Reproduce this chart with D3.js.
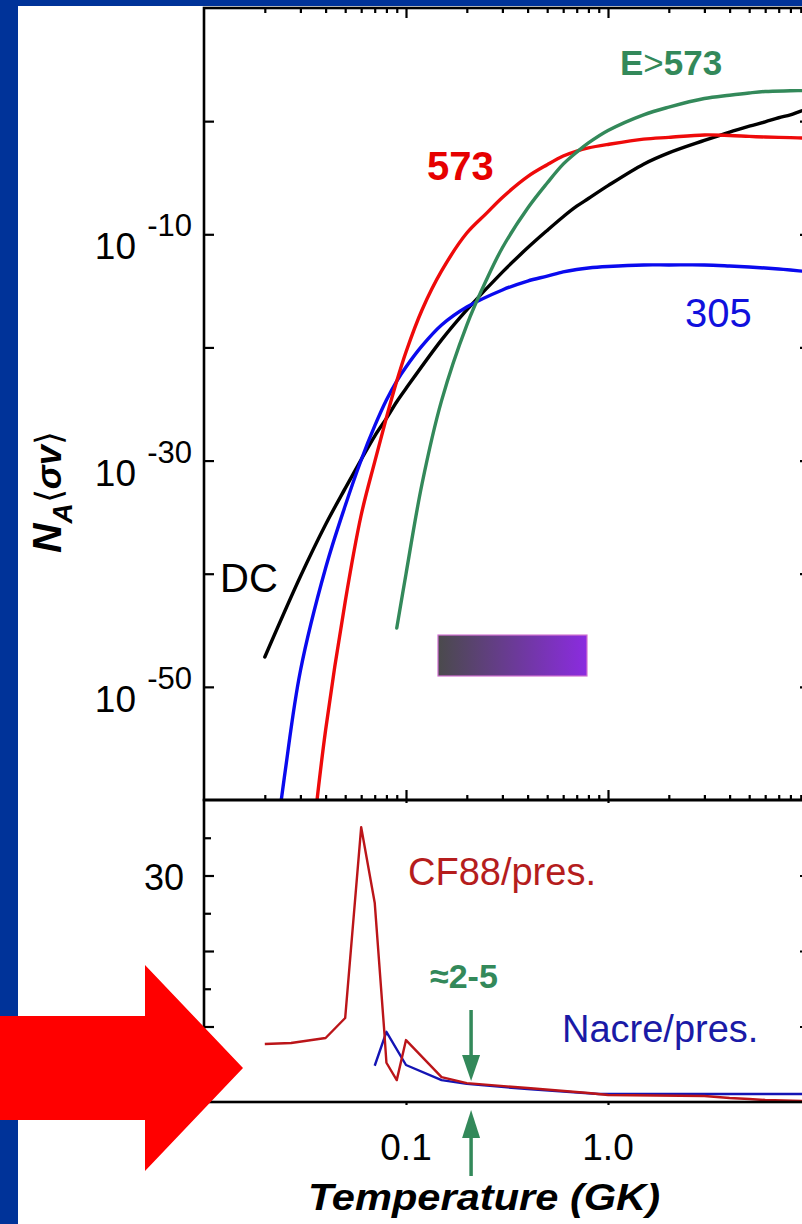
<!DOCTYPE html>
<html>
<head>
<meta charset="utf-8">
<script src="https://cdn.jsdelivr.net/npm/d3@7"></script>
<style>
  html, body { margin: 0; padding: 0; background: #ffffff; }
  svg { display: block; }
</style>
</head>
<body>
<svg id="chart" width="802" height="1224"></svg>
<script>
// ---------- data ----------
// Upper panel: reaction rate N_A<sigma v>, stored as log10 values, vs temperature (GK)
const tempDC   = [0.02, 0.03, 0.04, 0.05, 0.06, 0.07, 0.08, 0.09, 0.1, 0.15, 0.2, 0.3, 0.4, 0.5, 0.6, 0.7, 0.8, 1, 1.5, 2, 3, 4, 5, 6, 7, 8, 9, 10];
const logRateDC = [-47.36, -40.25, -35.65, -32.46, -29.91, -27.83, -26.27, -24.8, -23.63, -19.33, -16.68, -13.34, -11.2, -9.66, -8.45, -7.52, -6.84, -5.7, -3.8, -2.8, -1.7, -0.96, -0.45, -0.06, 0.3, 0.56, 0.89, 1.12];

const temp305    = [0.02, 0.025, 0.03, 0.04, 0.05, 0.06, 0.07, 0.08, 0.09, 0.1, 0.12, 0.15, 0.2, 0.3, 0.4, 0.5, 0.6, 0.7, 0.8, 1, 1.5, 2, 3, 4, 5, 6, 7, 8, 10];
const logRate305 = [-71.0, -57.97, -48.6, -39.5, -34.0, -29.95, -26.94, -24.65, -22.97, -21.73, -19.87, -18.02, -16.43, -14.92, -14.13, -13.7, -13.33, -13.11, -12.98, -12.85, -12.71, -12.71, -12.71, -12.8, -12.89, -12.98, -13.07, -13.16, -13.33];

const temp573    = [0.035, 0.04, 0.05, 0.06, 0.07, 0.08, 0.09, 0.1, 0.12, 0.15, 0.2, 0.25, 0.3, 0.4, 0.5, 0.6, 0.7, 0.8, 1, 1.5, 2, 3, 4, 5, 6, 8, 10];
const logRate573 = [-62.47, -53.81, -42.47, -34.81, -30.11, -26.2, -22.97, -20.4, -16.69, -13.24, -9.89, -8.15, -6.74, -4.9, -3.85, -3.08, -2.64, -2.37, -2.06, -1.59, -1.43, -1.22, -1.27, -1.35, -1.4, -1.46, -1.51];

const tempHigh    = [0.09, 0.1, 0.12, 0.15, 0.2, 0.25, 0.3, 0.4, 0.5, 0.6, 0.7, 0.8, 1, 1.5, 2, 3, 4, 5, 6, 8, 10];
const logRateHigh = [-44.8, -40.02, -32.07, -24.7, -18.02, -14.04, -11.19, -7.7, -5.47, -3.8, -2.74, -1.93, -0.83, 0.56, 1.24, 2.0, 2.29, 2.49, 2.62, 2.68, 2.71];

// Shaded temperature band in the upper panel
const bandTemp = [0.144, 0.787];
const bandLogRate = [-45.42, -49.04];

// Lower panel: rate ratios vs temperature (GK)
const tempCF88  = [0.02, 0.027, 0.04, 0.05, 0.06, 0.07, 0.078, 0.08, 0.09, 0.1, 0.15, 0.2, 0.4, 0.8, 1, 3, 4, 5, 6, 10];
const ratioCF88 = [7.68, 7.81, 8.48, 11.13, 36.4, 26.4, 9.5, 5.2, 2.9, 8.2, 3.3, 2.5, 1.85, 1.2, 0.93, 0.8, 0.53, 0.4, 0.26, 0.13];
const tempNacre  = [0.07, 0.08, 0.1, 0.15, 0.2, 0.4, 0.9, 10];
const ratioNacre = [4.8, 9.3, 4.9, 2.9, 2.4, 1.7, 1.06, 1.06];

// Marked temperature for the "≈2-5" note
const markTemp = 0.21;

// Tick values and labels
const xMajorTicks = [0.1, 1, 10];
const xTickLabels = [["0.1", 0.1], ["1.0", 1]];
const yUpperTicks = [1e0, 1e-10, 1e-20, 1e-30, 1e-40, 1e-50];
const yUpperLabels = [[1e-10, "-10"], [1e-30, "-30"], [1e-50, "-50"]];
const yLowerMajor = [10, 20, 30];
const yLowerMinor = [5, 15, 25, 35];
const yLowerLabels = [30];

// ---------- layout ----------
const W = 802, H = 1224;
const plotLeft = 204, plotRight = 810;
const upperTop = 8, split = 800, lowerBottom = 1102;
const FONT = "'Liberation Sans', Arial, Helvetica, sans-serif";

const svg = d3.select("#chart");

const x = d3.scaleLog().domain([0.01, 10]).range([plotLeft, plotRight]);
const yUp = d3.scaleLog().domain([1e-60, 1e10]).range([split, upperTop]);
const yLow = d3.scaleLinear().domain([0, 40]).range([lowerBottom, split]);

const xMinorTicks = [];
[0.01, 0.1, 1].forEach(dec => { for (let k = 2; k <= 9; k++) xMinorTicks.push(+(dec * k).toPrecision(3)); });

// page background with blue border
svg.append("rect").attr("width", W).attr("height", H).attr("fill", "#003399");
svg.append("rect").attr("x", 18).attr("y", 6).attr("width", W - 18).attr("height", H - 6).attr("fill", "#ffffff");

const defs = svg.append("defs");
defs.append("clipPath").attr("id", "clipUpper").append("rect")
  .attr("x", plotLeft).attr("y", upperTop).attr("width", plotRight - plotLeft).attr("height", split - upperTop);
defs.append("clipPath").attr("id", "clipLower").append("rect")
  .attr("x", plotLeft).attr("y", split).attr("width", plotRight - plotLeft).attr("height", lowerBottom - split);
const grad = defs.append("linearGradient").attr("id", "bandFill").attr("x1", "0%").attr("x2", "100%").attr("y1", "0%").attr("y2", "0%");
grad.append("stop").attr("offset", "0%").attr("stop-color", "#4a4a4c");
grad.append("stop").attr("offset", "100%").attr("stop-color", "#8b2be0");

// ---------- upper panel ----------
const zip = (t, v) => t.map((d, i) => [d, v[i]]);
const upperLine = d3.line().x(d => x(d[0])).y(d => yUp(Math.pow(10, d[1]))).curve(d3.curveCatmullRom.alpha(0.5));

const gUp = svg.append("g").attr("clip-path", "url(#clipUpper)");
const upperSeries = [
  { t: tempDC, v: logRateDC, color: "#000000" },
  { t: temp305, v: logRate305, color: "#0a0aee" },
  { t: temp573, v: logRate573, color: "#ee0a0a" },
  { t: tempHigh, v: logRateHigh, color: "#33895a" }
];
gUp.selectAll("path.rate").data(upperSeries).join("path")
  .attr("class", "rate")
  .attr("d", s => upperLine(zip(s.t, s.v)))
  .attr("fill", "none").attr("stroke", s => s.color)
  .attr("stroke-width", 3.4).attr("stroke-linejoin", "round").attr("stroke-linecap", "round");

gUp.append("rect")
  .attr("x", x(bandTemp[0])).attr("width", x(bandTemp[1]) - x(bandTemp[0]))
  .attr("y", yUp(Math.pow(10, bandLogRate[0])))
  .attr("height", yUp(Math.pow(10, bandLogRate[1])) - yUp(Math.pow(10, bandLogRate[0])))
  .attr("fill", "url(#bandFill)").attr("stroke", "#d070d0").attr("stroke-width", 1.2);

// ---------- lower panel ----------
const lowerLine = d3.line().x(d => x(d[0])).y(d => yLow(d[1]));
const gLow = svg.append("g").attr("clip-path", "url(#clipLower)");
gLow.append("path").attr("d", lowerLine(zip(tempNacre, ratioNacre)))
  .attr("fill", "none").attr("stroke", "#1414b4").attr("stroke-width", 2.4).attr("stroke-linejoin", "round");
gLow.append("path").attr("d", lowerLine(zip(tempCF88, ratioCF88)))
  .attr("fill", "none").attr("stroke", "#bb1519").attr("stroke-width", 2.4).attr("stroke-linejoin", "round");

// ---------- axes ----------
function styleAxis(g) {
  g.select(".domain").remove();
  g.selectAll(".tick line").attr("stroke", "#000").attr("stroke-width", 2.2);
  g.selectAll(".tick text").remove();
}
const axisG = svg.append("g");
// x ticks on the top edge and on the panel split
axisG.append("g").attr("transform", `translate(0,${upperTop})`)
  .call(d3.axisBottom(x).tickValues(xMinorTicks).tickSize(5)).call(styleAxis);
axisG.append("g").attr("transform", `translate(0,${upperTop})`)
  .call(d3.axisBottom(x).tickValues(xMajorTicks).tickSize(10)).call(styleAxis);
axisG.append("g").attr("transform", `translate(0,${split})`)
  .call(d3.axisTop(x).tickValues(xMinorTicks).tickSize(5)).call(styleAxis);
axisG.append("g").attr("transform", `translate(0,${split})`)
  .call(d3.axisTop(x).tickValues(xMajorTicks).tickSize(10)).call(styleAxis);
axisG.append("g").attr("transform", `translate(0,${split})`)
  .call(d3.axisBottom(x).tickValues(xMajorTicks).tickSize(3)).call(styleAxis);
axisG.append("g").attr("transform", `translate(0,${lowerBottom})`)
  .call(d3.axisBottom(x).tickValues(xMajorTicks).tickSize(3)).call(styleAxis);
// y ticks, upper panel
axisG.append("g").attr("transform", `translate(${plotLeft},0)`)
  .call(d3.axisRight(yUp).tickValues(yUpperTicks).tickSize(10)).call(styleAxis);
axisG.append("g").attr("transform", `translate(${plotRight},0)`)
  .call(d3.axisLeft(yUp).tickValues(yUpperTicks).tickSize(10)).call(styleAxis);
// y ticks, lower panel
axisG.append("g").attr("transform", `translate(${plotLeft},0)`)
  .call(d3.axisRight(yLow).tickValues(yLowerMajor).tickSize(10)).call(styleAxis);
axisG.append("g").attr("transform", `translate(${plotLeft},0)`)
  .call(d3.axisRight(yLow).tickValues(yLowerMinor).tickSize(7)).call(styleAxis);
axisG.append("g").attr("transform", `translate(${plotRight},0)`)
  .call(d3.axisLeft(yLow).tickValues(yLowerMajor).tickSize(10)).call(styleAxis);
axisG.append("g").attr("transform", `translate(${plotRight},0)`)
  .call(d3.axisLeft(yLow).tickValues(yLowerMinor).tickSize(7)).call(styleAxis);

// panel frames
svg.append("rect").attr("x", plotLeft).attr("y", upperTop)
  .attr("width", plotRight - plotLeft).attr("height", split - upperTop)
  .attr("fill", "none").attr("stroke", "#000").attr("stroke-width", 2.6);
svg.append("rect").attr("x", plotLeft).attr("y", split)
  .attr("width", plotRight - plotLeft).attr("height", lowerBottom - split)
  .attr("fill", "none").attr("stroke", "#000").attr("stroke-width", 2.6);

// ---------- tick labels ----------
const labels = svg.append("g").attr("font-family", FONT).attr("fill", "#000");
yUpperLabels.forEach(([v, exp]) => {
  const yy = yUp(v);
  labels.append("text").attr("x", 192).attr("y", yy + 2).attr("text-anchor", "end")
    .attr("font-size", 31).text(exp);
  labels.append("text").attr("x", 136).attr("y", yy + 25).attr("text-anchor", "end")
    .attr("font-size", 37).text("10");
});
yLowerLabels.forEach(v => {
  labels.append("text").attr("x", 184).attr("y", yLow(v) + 14).attr("text-anchor", "end")
    .attr("font-size", 36).text(v);
});
xTickLabels.forEach(([lab, v]) => {
  labels.append("text").attr("x", x(v)).attr("y", 1160).attr("text-anchor", "middle")
    .attr("font-size", 37).text(lab);
});

// axis titles
labels.append("text").attr("x", 484).attr("y", 1210).attr("text-anchor", "middle")
  .attr("font-size", 36).attr("font-weight", "bold").attr("font-style", "italic")
  .attr("textLength", 352).attr("lengthAdjust", "spacingAndGlyphs")
  .text("Temperature (GK)");

const yTitle = labels.append("text").attr("transform", "translate(61,553) rotate(-90)")
  .attr("font-weight", "bold").attr("font-style", "italic");
yTitle.append("tspan").attr("font-size", 41).text("N");
yTitle.append("tspan").attr("font-size", 28).attr("dy", 11).text("A");
yTitle.append("tspan").attr("font-size", 36).attr("dy", -11).attr("font-weight", "normal").attr("font-style", "normal").text("\u27E8");
yTitle.append("tspan").attr("font-size", 36).text("\u03C3v");
yTitle.append("tspan").attr("font-size", 36).attr("font-weight", "normal").attr("font-style", "normal").text("\u27E9");

// ---------- curve annotations ----------
const notes = svg.append("g").attr("font-family", FONT);
const eLab = notes.append("text").attr("x", 620).attr("y", 75).attr("fill", "#33895a")
  .attr("font-size", 35).attr("font-weight", "bold");
eLab.append("tspan").text("E");
eLab.append("tspan").attr("font-weight", "normal").text(">");
eLab.append("tspan").text("573");
notes.append("text").attr("x", 427).attr("y", 180).attr("fill", "#e60000")
  .attr("font-size", 40).attr("font-weight", "bold").text("573");
notes.append("text").attr("x", 685).attr("y", 327).attr("fill", "#1010dd")
  .attr("font-size", 40).text("305");
notes.append("text").attr("x", 220).attr("y", 592).attr("fill", "#000")
  .attr("font-size", 40).text("DC");
notes.append("text").attr("x", 408).attr("y", 885).attr("fill", "#b51d1d")
  .attr("font-size", 38).text("CF88/pres.");
notes.append("text").attr("x", 562).attr("y", 1042).attr("fill", "#1a1aa6")
  .attr("font-size", 38).text("Nacre/pres.");
notes.append("text").attr("x", 430).attr("y", 988).attr("fill", "#33895a")
  .attr("font-size", 34).attr("font-weight", "bold").text("\u22482-5");

// green pointer arrows at the marked temperature
const ax = x(markTemp);
const arrowG = svg.append("g").attr("fill", "#33895a").attr("stroke", "#33895a");
arrowG.append("line").attr("x1", ax).attr("x2", ax).attr("y1", 1010).attr("y2", 1058).attr("stroke-width", 3.5);
arrowG.append("path").attr("stroke", "none")
  .attr("d", `M${ax - 9},1055 L${ax + 9},1055 L${ax},1081 Z`);
arrowG.append("line").attr("x1", ax).attr("x2", ax).attr("y1", 1176).attr("y2", 1135).attr("stroke-width", 3.5);
arrowG.append("path").attr("stroke", "none")
  .attr("d", `M${ax - 9},1138 L${ax + 9},1138 L${ax},1110 Z`);

// large red pointer arrow on the left margin
svg.append("path")
  .attr("d", "M0,1016 L145,1016 L145,965 L243,1068 L145,1171 L145,1120 L0,1120 Z")
  .attr("fill", "#ff0000");
</script>
</body>
</html>
